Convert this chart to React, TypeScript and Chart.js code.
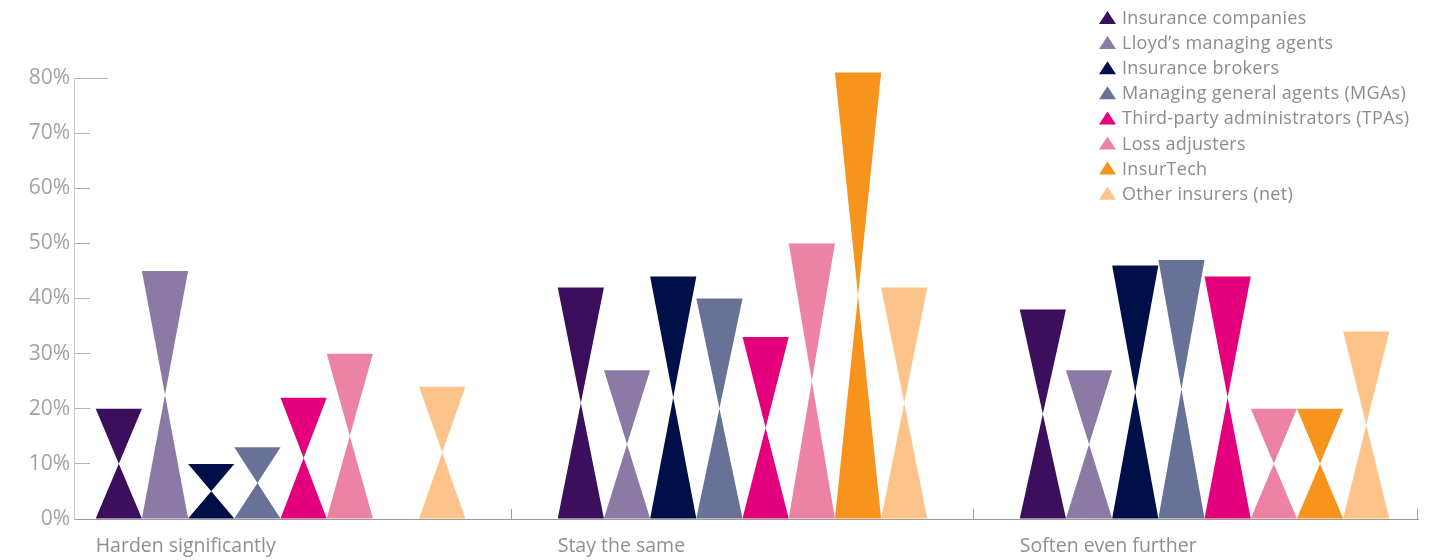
import React, { useEffect, useRef } from "react";
import { Chart, registerables } from "chart.js";

Chart.register(...registerables);

// ---- Data ----
const categories = ["Harden significantly", "Stay the same", "Soften even further"];

const seriesNames = [
  "Insurance companies",
  "Lloyd’s managing agents",
  "Insurance brokers",
  "Managing general agents (MGAs)",
  "Third-party administrators (TPAs)",
  "Loss adjusters",
  "InsurTech",
  "Other insurers (net)",
];

const seriesColors = [
  "#3b0f5b",
  "#8b7aa6",
  "#000f47",
  "#687196",
  "#e4007c",
  "#ec83a5",
  "#f6941e",
  "#fcc48a",
];

const insuranceCompanies = [20, 42, 38];
const lloydsManagingAgents = [45, 27, 27];
const insuranceBrokers = [10, 44, 46];
const managingGeneralAgents = [13, 40, 47];
const thirdPartyAdministrators = [22, 33, 44];
const lossAdjusters = [30, 50, 20];
const insurTech = [0, 81, 20];
const otherInsurers = [24, 42, 34];

const seriesValues = [
  insuranceCompanies,
  lloydsManagingAgents,
  insuranceBrokers,
  managingGeneralAgents,
  thirdPartyAdministrators,
  lossAdjusters,
  insurTech,
  otherInsurers,
];

const yTickValues = [0, 10, 20, 30, 40, 50, 60, 70, 80];

// ---- Layout constants (x scale in category units) ----
const X_MIN = -0.447;
const X_MAX = 2.462;
const GROUP_HALF = 0.4;

// boundary tick marks between categories
const xBoundaryTicks = [0.5, 1.5];
// label ticks at the start of each group
const xLabelTicks = categories.map((_, i) => i - GROUP_HALF);

const bowtiePlugin = {
  id: "bowtie",
  beforeDatasetDraw() {
    return false;
  },
  afterDatasetsDraw(chart: any) {
    const ctx = chart.ctx;
    chart.data.datasets.forEach((ds: any, i: number) => {
      const meta = chart.getDatasetMeta(i);
      if (meta.hidden) return;
      meta.data.forEach((bar: any) => {
        const { x, y, base, width } = bar.getProps(["x", "y", "base", "width"], true);
        if (Math.abs(base - y) < 0.5) return;
        const mid = (y + base) / 2;
        const l = x - width / 2;
        const r = x + width / 2;
        ctx.save();
        ctx.fillStyle = ds.backgroundColor;
        ctx.beginPath();
        ctx.moveTo(l, base);
        ctx.lineTo(r, base);
        ctx.lineTo(x, mid);
        ctx.closePath();
        ctx.moveTo(l, y);
        ctx.lineTo(r, y);
        ctx.lineTo(x, mid);
        ctx.closePath();
        ctx.fill();
        ctx.restore();
      });
    });
  },
};

const decorPlugin = {
  id: "decor",
  afterDraw(chart: any) {
    const ctx = chart.ctx;
    const ys = chart.scales.y;
    const area = chart.chartArea;
    ctx.save();
    // extended top tick at 80%
    const yTop = Math.round(ys.getPixelForValue(yTickValues[yTickValues.length - 1])) + 0.5;
    ctx.strokeStyle = "#b4b4b4";
    ctx.lineWidth = 1;
    ctx.beginPath();
    ctx.moveTo(area.left, yTop);
    ctx.lineTo(area.left + 34, yTop);
    ctx.stroke();
    // end tick mark of the x axis
    const xr = Math.round(area.right) - 0.5;
    ctx.strokeStyle = "#a0a0a0";
    ctx.beginPath();
    ctx.moveTo(xr, area.bottom);
    ctx.lineTo(xr, area.bottom - 10);
    ctx.stroke();

    // legend with triangle markers
    const x0 = 1099;
    const y0 = 24;
    const step = 25.1;
    ctx.font = "18px 'Open Sans'";
    try {
      (ctx as any).letterSpacing = "0.3px";
    } catch (e) {}
    ctx.textBaseline = "alphabetic";
    ctx.textAlign = "left";
    chart.data.datasets.forEach((ds: any, i: number) => {
      const by = y0 + i * step;
      ctx.fillStyle = ds.backgroundColor;
      ctx.beginPath();
      ctx.moveTo(x0, by);
      ctx.lineTo(x0 + 17, by);
      ctx.lineTo(x0 + 8.5, by - 13);
      ctx.closePath();
      ctx.fill();
      ctx.fillStyle = "#8c8c8c";
      ctx.fillText(ds.label, x0 + 23, by);
    });
    try {
      (ctx as any).letterSpacing = "0px";
    } catch (e) {}
    ctx.restore();
  },
};

export default function App() {
  const canvasRef = useRef<HTMLCanvasElement | null>(null);

  useEffect(() => {
    if (!canvasRef.current) return;
    const datasets = seriesNames.map((name, i) => ({
      label: name,
      data: seriesValues[i].map((v, ci) => ({ x: ci, y: v })),
      backgroundColor: seriesColors[i],
      borderWidth: 0,
      xAxisID: "x",
      yAxisID: "y",
    }));

    const chart = new Chart(canvasRef.current, {
      type: "bar",
      data: { datasets } as any,
      options: {
        animation: false,
        responsive: true,
        maintainAspectRatio: false,
        layout: { padding: { top: 78, right: 11, left: 0, bottom: 0 } },
        datasets: {
          bar: { categoryPercentage: 0.8, barPercentage: 1.0 },
        },
        plugins: {
          legend: { display: false },
          tooltip: { enabled: false },
        },
        scales: {
          x: {
            type: "linear",
            position: "bottom",
            weight: 0,
            min: X_MIN,
            max: X_MAX,
            offset: false,
            bounds: "data",
            afterBuildTicks: (scale: any) => {
              scale.ticks = xBoundaryTicks.map((v) => ({ value: v }));
            },
            afterFit: (scale: any) => {
              scale.height = 0;
              scale.paddingLeft = 0;
              scale.paddingRight = 0;
            },
            grid: {
              display: true,
              offset: false,
              drawOnChartArea: false,
              drawTicks: true,
              tickLength: -10,
              tickColor: "#a0a0a0",
              tickWidth: 1,
            },
            border: { display: true, color: "#9b9b9b", width: 1 },
            ticks: { display: false },
          },
          xLabels: {
            type: "linear",
            position: "bottom",
            weight: 1,
            min: X_MIN,
            max: X_MAX,
            offset: false,
            bounds: "data",
            afterBuildTicks: (scale: any) => {
              scale.ticks = xLabelTicks.map((v) => ({ value: v }));
            },
            afterFit: (scale: any) => {
              scale.height = 41;
              scale.paddingLeft = 0;
              scale.paddingRight = 0;
            },
            grid: { display: false, drawOnChartArea: false, drawTicks: false },
            border: { display: false },
            ticks: {
              autoSkip: false,
              maxRotation: 0,
              minRotation: 0,
              align: "start",
              padding: 16,
              color: "#8f8f8f",
              font: { family: "'Open Sans'", size: 19.5 },
              callback: (_v: any, idx: number) => categories[idx] || "",
            },
          },
          y: {
            type: "linear",
            min: 0,
            max: 80,
            afterBuildTicks: (scale: any) => {
              scale.ticks = yTickValues.map((v) => ({ value: v }));
            },
            afterFit: (scale: any) => {
              scale.width = 74;
            },
            grid: {
              display: true,
              drawOnChartArea: false,
              drawTicks: true,
              tickLength: -16,
              tickColor: "#b4b4b4",
              tickWidth: 1,
            },
            border: { display: true, color: "#c6c6c6", width: 1 },
            ticks: {
              padding: 20,
              color: "#a3a3a3",
              font: { family: "'Open Sans'", size: 21 },
              callback: (v: any) => v + "%",
            },
          },
        },
      } as any,
      plugins: [bowtiePlugin, decorPlugin],
    });
    return () => chart.destroy();
  }, []);

  return (
    <div style={{ position: "absolute", left: 0, top: 0, width: 1429, height: 560 }}>
      <canvas ref={canvasRef} />
    </div>
  );
}
